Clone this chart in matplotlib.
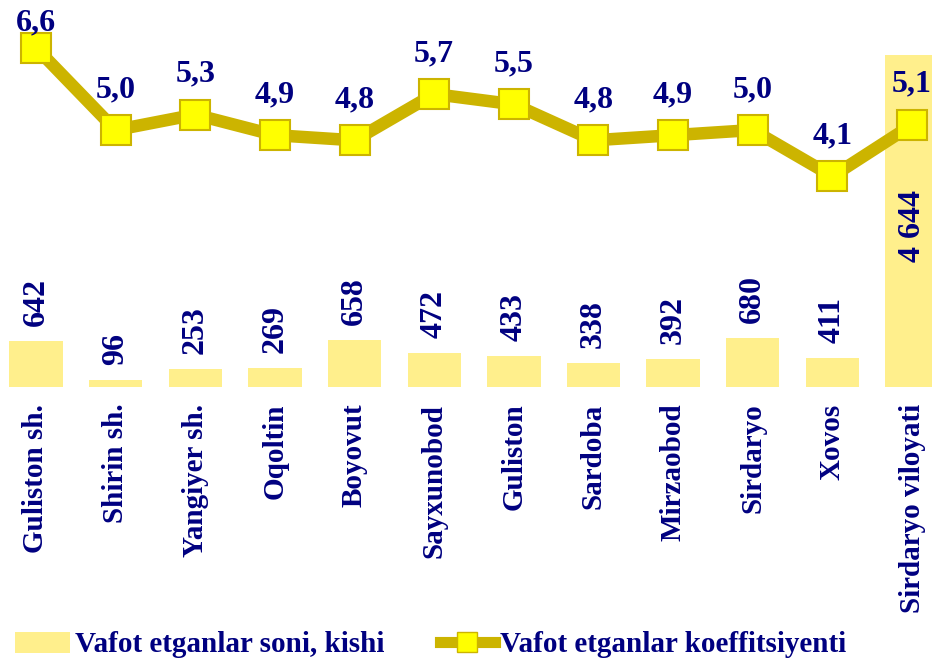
import matplotlib
matplotlib.use("Agg")
import matplotlib.pyplot as plt
from matplotlib.patches import Patch
from matplotlib.lines import Line2D

# data
districts = ["Guliston sh.", "Shirin sh.", "Yangiyer sh.", "Oqoltin", "Boyovut",
             "Sayxunobod", "Guliston", "Sardoba", "Mirzaobod", "Sirdaryo",
             "Xovos", "Sirdaryo viloyati"]
deaths = [642, 96, 253, 269, 658, 472, 433, 338, 392, 680, 411, 4644]
death_rate = [6.6, 5.0, 5.3, 4.9, 4.8, 5.7, 5.5, 4.8, 4.9, 5.0, 4.1, 5.1]

bar_label = "Vafot etganlar soni, kishi"
line_label = "Vafot etganlar koeffitsiyenti"

navy = "#000080"
bar_color = "#FFEF8C"
line_color = "#CCB400"
marker_color = "#FFFF00"

plt.rcParams["font.family"] = ["Liberation Serif", "DejaVu Serif"]
plt.rcParams["font.weight"] = "bold"


def main():
    fig = plt.figure(figsize=(9.32, 6.63), dpi=100)
    ax = fig.add_axes([0, 1 - 387 / 663, 1, 387 / 663])
    x = list(range(len(districts)))

    ax.bar(x, deaths, width=0.67, color=bar_color, zorder=1)
    ax.set_xlim(-0.452, 11.251)
    ax.set_ylim(0, 5413)
    for s in ax.spines.values():
        s.set_visible(False)
    ax.set_yticks([])
    ax.set_xticks(x)
    ax.set_xticklabels(districts, rotation=90, fontsize=21, color=navy,
                       fontweight="bold", va="top", ha="center")
    ax.tick_params(axis="x", length=0, pad=12)

    # bar value labels
    for i, v in enumerate(deaths):
        txt = f"{v:,}".replace(",", " ")
        if i == len(deaths) - 1:
            ax.annotate(txt, (i, v), xytext=(0, -135), textcoords="offset pixels",
                        rotation=90, ha="center", va="top", fontsize=23,
                        color=navy, fontweight="bold")
        else:
            ax.annotate(txt, (i, v), xytext=(0, 15), textcoords="offset pixels",
                        rotation=90, ha="center", va="bottom", fontsize=23,
                        color=navy, fontweight="bold")

    ax2 = ax.twinx()
    ax2.plot(x, death_rate, color=line_color, linewidth=9, marker="s",
             markersize=21, markerfacecolor=marker_color,
             markeredgecolor=line_color, markeredgewidth=1.5, zorder=3)
    ax2.set_ylim(0, 7.53)
    ax2.set_yticks([])
    for s in ax2.spines.values():
        s.set_visible(False)

    for i, v in enumerate(death_rate):
        off = 17 if i == 0 else 33
        ax2.annotate(f"{v:.1f}".replace(".", ","), (i, v), xytext=(0, off),
                     textcoords="offset pixels", ha="center", va="baseline",
                     fontsize=23, color=navy, fontweight="bold")

    handles = [Patch(facecolor=bar_color, edgecolor="none"),
               Line2D([], [], color=line_color, linewidth=8, marker="s",
                      markersize=15, markerfacecolor=marker_color,
                      markeredgecolor=line_color)]
    fig.legend(handles, [bar_label, line_label], loc="center left",
               bbox_to_anchor=(0.0, 18 / 663), ncol=2, frameon=False,
               borderpad=0, handlelength=1.9, handletextpad=0.17,
               columnspacing=1.9,
               prop={"size": 21, "weight": "bold"}, labelcolor=navy)

    fig.savefig("out.png", dpi=100)


if __name__ == "__main__":
    main()
